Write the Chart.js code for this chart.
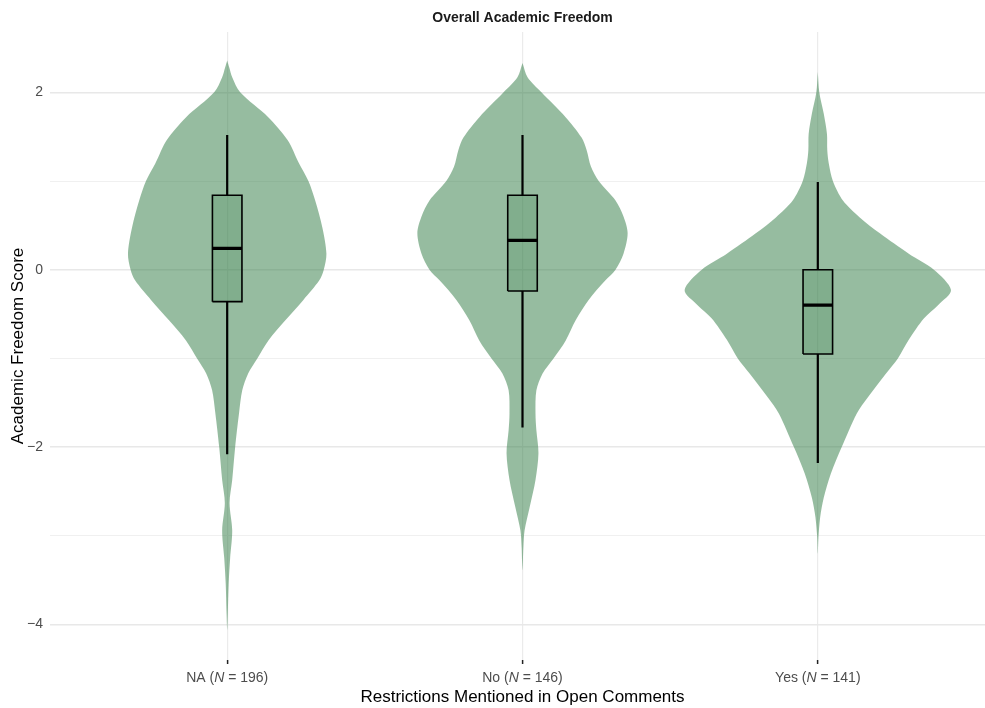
<!DOCTYPE html>
<html>
<head>
<meta charset="utf-8">
<script src="https://cdn.jsdelivr.net/npm/chart.js@4"></script>
<style>
  body { margin: 0; overflow: hidden; background: #fff; }
</style>
</head>
<body>
<canvas id="myChart" width="995" height="708"></canvas>
<script>
const chartTitle = "Overall Academic Freedom"
const categories = ["NA", "No", "Yes"]
const groupN = [196, 146, 141]

// violin outlines: score levels (top to bottom) and half width at each level, in category units
const naLevels = [2.36, 2.28, 2.17, 2.0, 1.72, 1.46, 1.2, 1.0, 0.78, 0.48, 0.18, 0.0, -0.12, -0.34, -0.57, -0.8, -1.0, -1.17, -1.36, -1.62, -2.0, -2.37, -2.63, -2.94, -3.25, -3.54, -3.88, -4.06]
const naWidths = [0, .007, .017, .044, .139, .205, .243, .275, .298, .322, .336, .327, .312, .258, .197, .139, .102, .071, .051, .040, .027, .017, .008, .017, .010, .005, .002, 0]

const noLevels = [2.33, 2.17, 2.0, 1.72, 1.49, 1.35, 1.16, 1.0, 0.78, 0.6, 0.41, 0.18, 0.0, -0.12, -0.34, -0.57, -0.8, -1.0, -1.17, -1.36, -1.62, -1.81, -2.07, -2.37, -2.68, -2.94, -3.13, -3.39]
const noWidths = [0, .017, .064, .146, .2, .217, .232, .258, .315, .342, .356, .342, .315, .281, .224, .18, .146, .105, .068, .047, .044, .047, .054, .044, .024, .007, .003, 0]

const yesLevels = [2.23, 2.0, 1.76, 1.53, 1.35, 1.2, 1.0, 0.78, 0.59, 0.41, 0.18, 0.0, -0.23, -0.4, -0.55, -0.79, -1.0, -1.17, -1.44, -1.62, -2.0, -2.3, -2.57, -2.79, -3.02, -3.2]
const yesWidths = [0, .005, .02, .031, .032, .037, .051, .085, .142, .21, .308, .393, .451, .407, .359, .308, .271, .231, .169, .132, .081, .044, .02, .008, .002, 0]

// box stats per category
const whiskerLow = [-2.08, -1.78, -2.18]
const q1 = [-0.36, -0.24, -0.95]
const median = [0.24, 0.33, -0.40]
const q3 = [0.84, 0.84, 0.0]
const whiskerHigh = [1.52, 1.52, 0.99]

const yTicks = [-4, -3, -2, -1, 0, 1, 2]

const FONT = '"Liberation Sans", Arial, sans-serif'
const violinColor = 'rgba(46, 121, 66, 0.5)'
const boxColor = 'rgba(46, 121, 66, 0.2)'
const boxHalf = 0.05

function violinPoints(pos, levels, widths) {
    var right = levels.map((y, i) => ({x: pos + widths[i], y: y}))
    var left = levels.map((y, i) => ({x: pos - widths[i], y: y})).reverse().slice(1)
    return right.concat(left)
}

var boxPts = [], whiskerPts = [], medianPts = []
for (let i = 0; i < categories.length; i++) {
    var p = i + 1
    boxPts.push({x: p - boxHalf, y: q1[i]}, {x: p + boxHalf, y: q1[i]}, {x: p + boxHalf, y: q3[i]},
        {x: p - boxHalf, y: q3[i]}, {x: p - boxHalf, y: q1[i]}, {x: p, y: null})
    whiskerPts.push({x: p, y: whiskerHigh[i]}, {x: p, y: q3[i]}, {x: p, y: null},
        {x: p, y: q1[i]}, {x: p, y: whiskerLow[i]}, {x: p, y: null})
    medianPts.push({x: p - boxHalf, y: median[i]}, {x: p + boxHalf, y: median[i]}, {x: p, y: null})
}

function violinSet(pts) {
    return {data: pts, fill: 'shape', backgroundColor: violinColor, borderWidth: 0,
        borderColor: 'rgba(0,0,0,0)', pointRadius: 0, tension: 0.3, order: 3}
}

const labelPlugin = {
    id: 'labels',
    afterDraw(chart) {
        var ctx = chart.ctx, area = chart.chartArea, xs = chart.scales.x
        ctx.save()
        ctx.textBaseline = 'middle'
        ctx.textAlign = 'center'
        ctx.fillStyle = '#1a1a1a'
        ctx.font = 'bold 14px ' + FONT
        ctx.fillText(chartTitle, (area.left + area.right) / 2, 18)

        ctx.textAlign = 'left'
        ctx.fillStyle = '#4d4d4d'
        categories.forEach((c, i) => {
            var parts = [[c + ' (', '14px '], ['N', 'italic 14px '], [' = ' + groupN[i] + ')', '14px ']]
            var total = 0
            parts.forEach(pt => { ctx.font = pt[1] + FONT; total += ctx.measureText(pt[0]).width })
            var x = xs.getPixelForValue(i + 1) - total / 2
            parts.forEach(pt => {
                ctx.font = pt[1] + FONT
                ctx.fillText(pt[0], x, 678)
                x += ctx.measureText(pt[0]).width
            })
        })
        ctx.restore()
    }
}

var ctx = document.getElementById('myChart').getContext('2d')
var chart = new Chart(ctx, {
    type: 'line',
    data: {
        datasets: [
            violinSet(violinPoints(1, naLevels, naWidths)),
            violinSet(violinPoints(2, noLevels, noWidths)),
            violinSet(violinPoints(3, yesLevels, yesWidths)),
            {data: boxPts, fill: 'shape', backgroundColor: boxColor, borderColor: '#000', borderWidth: 1.6,
                borderJoinStyle: 'miter', pointRadius: 0, tension: 0, order: 2},
            {data: whiskerPts, fill: false, borderColor: '#000', borderWidth: 2.2, pointRadius: 0, tension: 0, order: 1},
            {data: medianPts, fill: false, borderColor: '#000', borderWidth: 3.2, pointRadius: 0, tension: 0, order: 0}
        ]
    },
    options: {
        responsive: false,
        animation: false,
        events: [],
        layout: { padding: { top: 32, left: 0, right: 0, bottom: 0 } },
        plugins: { legend: { display: false }, tooltip: { enabled: false }, title: { display: false } },
        scales: {
            x: {
                type: 'linear',
                min: 0.4,
                max: 3.6,
                afterBuildTicks: (s) => { s.ticks = categories.map((c, i) => ({value: i + 1})) },
                afterFit: (s) => { s.height = 48 },
                ticks: { display: false },
                grid: { color: '#ebebeb', lineWidth: 1.2, drawTicks: true, tickLength: 4, tickColor: '#222', tickWidth: 1.5 },
                border: { display: false },
                title: { display: true, text: 'Restrictions Mentioned in Open Comments', color: '#000',
                    font: { family: FONT, size: 17 }, padding: { top: 0, bottom: 0 } }
            },
            y: {
                min: -4.4,
                max: 2.68,
                afterBuildTicks: (s) => { s.ticks = yTicks.map(v => ({value: v})) },
                afterFit: (s) => { s.width = 50 },
                ticks: {
                    color: '#4d4d4d', padding: 7, font: { family: FONT, size: 14 },
                    callback: (v) => (v % 2 === 0 ? String(v).replace('-', '\u2212') : '')
                },
                grid: {
                    drawTicks: false,
                    color: (c) => (c.tick && c.tick.value % 2 === 0 ? '#e8e8e8' : '#f0f0f0'),
                    lineWidth: (c) => (c.tick && c.tick.value % 2 === 0 ? 1.6 : 1)
                },
                border: { display: false },
                title: { display: true, text: 'Academic Freedom Score', color: '#000',
                    font: { family: FONT, size: 17 }, padding: { top: 8, bottom: 0 } }
            }
        }
    },
    plugins: [labelPlugin]
})
</script>
</body>
</html>
